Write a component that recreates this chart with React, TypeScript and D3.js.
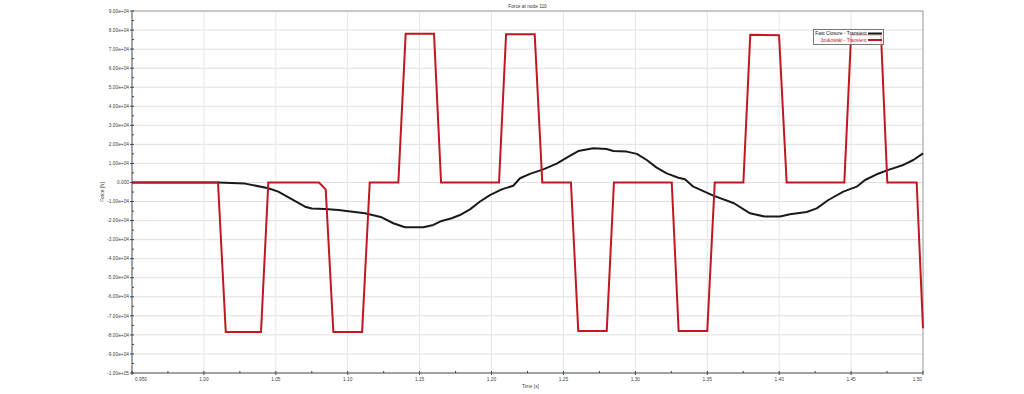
import React from "react";
import * as d3 from "d3";

const chartTitle = "Force at node 110";
const xLabel = "Time [s]";
const yLabel = "Force [N]";

const fastT = [0.95, 1.0098, 1.0286, 1.0448, 1.0517, 1.061, 1.0703, 1.075, 1.0842, 1.0935, 1.112, 1.1236, 1.1317, 1.1398, 1.1526, 1.1595, 1.1653, 1.1723, 1.178, 1.185, 1.192, 1.1989, 1.207, 1.2151, 1.2198, 1.2267, 1.236, 1.2453, 1.2523, 1.2603, 1.2708, 1.28, 1.2847, 1.294, 1.301, 1.3079, 1.3148, 1.3218, 1.3299, 1.3345, 1.3403, 1.3473, 1.3542, 1.3686, 1.3797, 1.3901, 1.4006, 1.4075, 1.4191, 1.4261, 1.4342, 1.4446, 1.4539, 1.4597, 1.4678, 1.4759, 1.4863, 1.4933, 1.5];
const fastF = [0, 0, -600, -3000, -4800, -8800, -12700, -13700, -13900, -14400, -16200, -18300, -21400, -23500, -23500, -22300, -20200, -18800, -17100, -14100, -10000, -6600, -3600, -1700, 2200, 4500, 6900, 9900, 13000, 16500, 18000, 17600, 16500, 16200, 15000, 11800, 7800, 4800, 2500, 1700, -2200, -4500, -6900, -10900, -16200, -17900, -17900, -16700, -15500, -13600, -9200, -4800, -2200, 1300, 4300, 6600, 9200, 11800, 15300];

const joukT = [0.95, 1.0098, 1.0152, 1.0397, 1.0448, 1.080, 1.0847, 1.090, 1.110, 1.1153, 1.1352, 1.1403, 1.160, 1.1649, 1.2052, 1.2101, 1.230, 1.2353, 1.2552, 1.2603, 1.2801, 1.2851, 1.3253, 1.3301, 1.350, 1.3552, 1.3751, 1.3799, 1.3999, 1.4052, 1.4453, 1.450, 1.4708, 1.4752, 1.4956, 1.5];
const joukF = [0, 0, -78500, -78500, 0, 0, -3600, -78500, -78500, 0, 0, 78000, 78000, 0, 0, 77800, 77800, 0, 0, -77900, -77900, 0, 0, -77900, -77900, 0, 0, 77500, 77300, 0, 0, 77500, 77500, 0, 0, -76500];

const xMajorTicks = [0.95, 1.0, 1.05, 1.1, 1.15, 1.2, 1.25, 1.3, 1.35, 1.4, 1.45, 1.5];
const xTickLabels = ["0.950", "1.00", "1.05", "1.10", "1.15", "1.20", "1.25", "1.30", "1.35", "1.40", "1.45", "1.50"];
const yMajorTicks = [90000, 80000, 70000, 60000, 50000, 40000, 30000, 20000, 10000, 0, -10000, -20000, -30000, -40000, -50000, -60000, -70000, -80000, -90000, -100000];
const yTickLabels = ["9.00e+04", "8.00e+04", "7.00e+04", "6.00e+04", "5.00e+04", "4.00e+04", "3.00e+04", "2.00e+04", "1.00e+04", "0.000", "-1.00e+04", "-2.00e+04", "-3.00e+04", "-4.00e+04", "-5.00e+04", "-6.00e+04", "-7.00e+04", "-8.00e+04", "-9.00e+04", "-1.00e+05"];

const seriesNames = ["Fast Closure - Transient", "Joukowski - Transient"];
const seriesColors = ["#1a1a1a", "#c01820"];

export default function App() {
  const W = 1024, H = 394;
  const L = 132, R = 923, T = 11, B = 373;
  const x = d3.scaleLinear().domain([0.95, 1.5]).range([L, R]);
  const y = d3.scaleLinear().domain([-100000, 90000]).range([B, T]);
  const line = d3.line<[number, number]>().x(d => x(d[0])).y(d => y(d[1]));
  const fastPts = fastT.map((t, i) => [t, fastF[i]] as [number, number]);
  const joukPts = joukT.map((t, i) => [t, joukF[i]] as [number, number]);
  const font = "'Liberation Sans', Arial, sans-serif";
  const fs = 4.8;
  const xMinor = d3.range(0, 11).map(i => 0.975 + i * 0.05);
  const yMinor = d3.range(0, 19).map(i => 85000 - i * 10000);
  return (
    <svg width={W} height={H} style={{ position: "absolute", left: 0, top: 0, background: "#fff" }} fontFamily={font}>
      <rect x={0} y={0} width={W} height={H} fill="#fff" />
      <text x={(L + R) / 2} y={8} fontSize={fs} textAnchor="middle" fill="#333">{chartTitle}</text>
      {/* grid */}
      {yMajorTicks.map((v, i) => (
        <line key={"hg" + i} x1={L} x2={R} y1={y(v)} y2={y(v)} stroke="#e0e0e0" strokeWidth={1} />
      ))}
      {xMajorTicks.map((v, i) => (
        <line key={"vg" + i} x1={x(v)} x2={x(v)} y1={T} y2={B} stroke="#e6e6e6" strokeWidth={1} />
      ))}
      {/* frame */}
      <line x1={L} x2={R} y1={T} y2={T} stroke="#a0a0a0" strokeWidth={1} />
      <line x1={R} x2={R} y1={T} y2={B} stroke="#a0a0a0" strokeWidth={1} />
      <line x1={L} x2={L} y1={T} y2={B} stroke="#555" strokeWidth={1} />
      <line x1={L} x2={R} y1={B} y2={B} stroke="#555" strokeWidth={1} />
      {/* y ticks */}
      {yMajorTicks.map((v, i) => (
        <g key={"yt" + i}>
          <line x1={L - 2} x2={L + 2} y1={y(v)} y2={y(v)} stroke="#444" />
          <text x={L - 3} y={y(v) + 1.7} fontSize={fs} textAnchor="end" fill="#444">{yTickLabels[i]}</text>
        </g>
      ))}
      {yMinor.map((v, i) => (
        <line key={"ym" + i} x1={L} x2={L + 2} y1={y(v)} y2={y(v)} stroke="#444" />
      ))}
      {/* x ticks */}
      {xMajorTicks.map((v, i) => (
        <g key={"xt" + i}>
          <line x1={x(v)} x2={x(v)} y1={B - 2} y2={B + 2} stroke="#444" />
          <text x={i === 0 ? x(v) + 3 : i === xMajorTicks.length - 1 ? x(v) - 1 : x(v)} y={B + 8} fontSize={fs}
            textAnchor={i === 0 ? "start" : i === xMajorTicks.length - 1 ? "end" : "middle"} fill="#444">{xTickLabels[i]}</text>
        </g>
      ))}
      {xMinor.map((v, i) => (
        <line key={"xm" + i} x1={x(v)} x2={x(v)} y1={B - 2} y2={B} stroke="#444" />
      ))}
      <text x={(L + R) / 2 + 3} y={388} fontSize={fs} textAnchor="middle" fill="#444">{xLabel}</text>
      <text transform={`translate(104,${(T + B) / 2}) rotate(-90)`} fontSize={fs} textAnchor="middle" fill="#444">{yLabel}</text>
      {/* series */}
      <path d={line(fastPts) || ""} fill="none" stroke={seriesColors[0]} strokeWidth={2} strokeLinejoin="round" />
      <path d={line(joukPts) || ""} fill="none" stroke={seriesColors[1]} strokeWidth={2} strokeLinejoin="miter" />
      {/* legend */}
      <rect x={813.5} y={29.5} width={70} height={15} fill="#fff" fillOpacity={0.75} stroke="#777" strokeWidth={1} />
      {seriesNames.map((n, i) => (
        <g key={"lg" + i}>
          <text x={866.5} y={35.3 + i * 6.5} fontSize={fs} textAnchor="end" fill={seriesColors[i]}>{n}</text>
          <line x1={868} x2={882} y1={33.5 + i * 6.5} y2={33.5 + i * 6.5} stroke={seriesColors[i]} strokeWidth={2} />
        </g>
      ))}
    </svg>
  );
}
